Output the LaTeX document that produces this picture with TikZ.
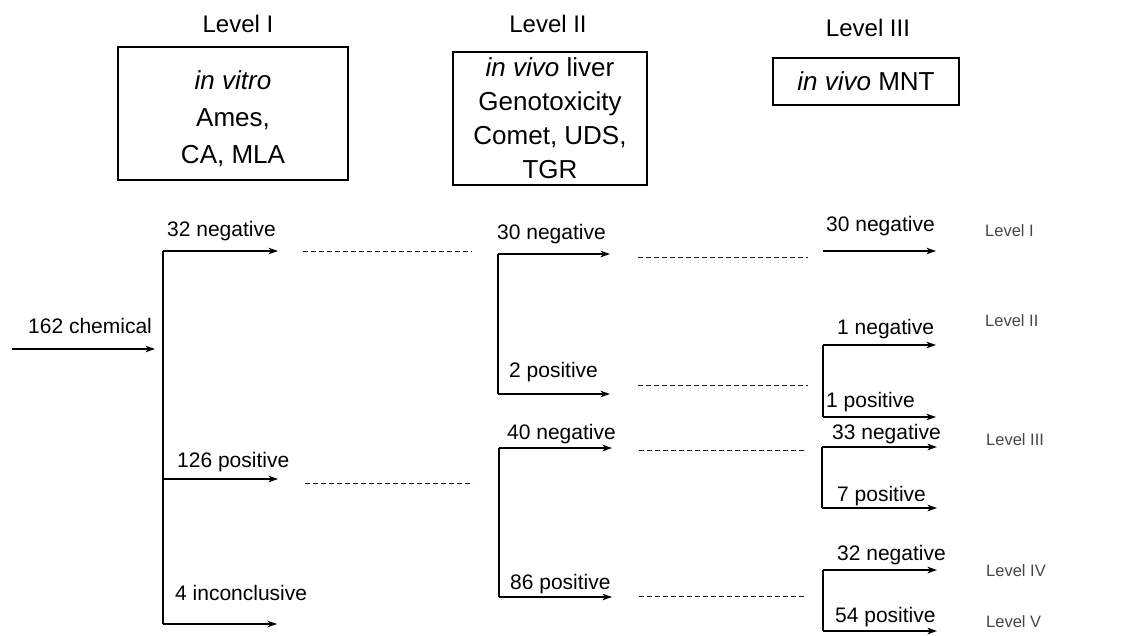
\documentclass[tikz,border=0pt]{standalone}
\usepackage{fontspec}
\setmainfont{Liberation Sans}
\usetikzlibrary{arrows.meta}
\begin{document}
\begin{tikzpicture}[x=1pt,y=-1pt,
  conn/.style={line width=1.3pt, draw=black, line join=miter},
  arr/.style={conn, -{Stealth[length=9.5pt,width=6.5pt,inset=2.5pt]}},
  dashline/.style={line width=1.0pt, draw=black!90, dash pattern=on 5pt off 3pt},
  lbl/.style={font=\fontsize{21}{25}\selectfont, inner sep=0pt, anchor=base west},
  lvl/.style={font=\fontsize{16.5}{20}\selectfont, text=black!72, inner sep=0pt, anchor=base west},
  hdr/.style={font=\fontsize{24}{28}\selectfont, inner sep=0pt, anchor=base},
  boxnode/.style={draw=black, line width=1.6pt, inner sep=0pt, align=center}
]
\fill[white] (0,0) rectangle (1126,635);
\useasboundingbox (0,0) rectangle (1126,635);

% headers
\node[hdr] (h1) at (238,32) {Level I};
\node[hdr] (h2) at (548,32) {Level II};
\node[hdr] (h3) at (868,36) {Level III};

% boxes
\node[boxnode, minimum width=230pt, minimum height=133pt] (box1) at (233,113.5) {};
\node[inner sep=0pt, align=center, font=\fontsize{26}{37}\selectfont] (box1t) at (233,119)
      {\textit{in vitro}\\Ames,\\CA, MLA};
\node[boxnode, line width=1.3pt, minimum width=194pt, minimum height=133pt,
      font=\fontsize{26}{34}\selectfont] (box2) at (550,118.5)
      {\textit{in vivo} liver\\Genotoxicity\\Comet, UDS,\\TGR};
\node[boxnode, line width=1.3pt, minimum width=186pt, minimum height=47pt,
      font=\fontsize{26}{30}\selectfont] (box3) at (866,81.5)
      {\textit{in vivo} MNT};

% coordinates
\coordinate (in0) at (12,349);  \coordinate (in1) at (155,349);
\coordinate (t1) at (163,251);  \coordinate (m1) at (163,479);  \coordinate (b1) at (163,624);
\coordinate (t1e) at (278,251); \coordinate (m1e) at (278,479); \coordinate (b1e) at (277,624);
\coordinate (d1a) at (303,251); \coordinate (d1b) at (472,251);
\coordinate (d2a) at (305,483); \coordinate (d2b) at (473,483);

\coordinate (ta) at (498,254);  \coordinate (ba) at (498,394);
\coordinate (tae) at (610,254); \coordinate (bae) at (610,394);
\coordinate (tb) at (499,448);  \coordinate (bb) at (499,597);
\coordinate (tbe) at (612,448); \coordinate (bbe) at (612,597);

\coordinate (d3a) at (638,257); \coordinate (d3b) at (808,257);
\coordinate (d4a) at (638,385); \coordinate (d4b) at (808,385);
\coordinate (d5a) at (639,450); \coordinate (d5b) at (805,450);
\coordinate (d6a) at (639,596); \coordinate (d6b) at (805,596);

\coordinate (r0) at (823,251);  \coordinate (r0e) at (936,251);
\coordinate (tc) at (823,345);  \coordinate (bc) at (823,417);
\coordinate (tce) at (936,345); \coordinate (bce) at (936,417);
\coordinate (td) at (822,447);  \coordinate (bd) at (822,508);
\coordinate (tde) at (937,447); \coordinate (bde) at (937,508);
\coordinate (te) at (823,570);  \coordinate (be) at (823,631);
\coordinate (tee) at (937,570); \coordinate (bee) at (937,631);

% left stage
\draw[arr] (in0) -- (in1);
\draw[conn] (t1) -- (b1);
\draw[arr] (t1) -- (t1e);
\draw[arr] (m1) -- (m1e);
\draw[arr] (b1) -- (b1e);
\draw[dashline] (d1a) -- (d1b);
\draw[dashline] (d2a) -- (d2b);

% middle stage
\draw[conn] (ta) -- (ba);
\draw[arr] (ta) -- (tae);
\draw[arr] (ba) -- (bae);
\draw[conn] (tb) -- (bb);
\draw[arr] (tb) -- (tbe);
\draw[arr] (bb) -- (bbe);
\draw[dashline] (d3a) -- (d3b);
\draw[dashline] (d4a) -- (d4b);
\draw[dashline] (d5a) -- (d5b);
\draw[dashline] (d6a) -- (d6b);

% right stage
\draw[arr] (r0) -- (r0e);
\draw[conn] (tc) -- (bc);
\draw[arr] (tc) -- (tce);
\draw[arr] (bc) -- (bce);
\draw[conn] (td) -- (bd);
\draw[arr] (td) -- (tde);
\draw[arr] (bd) -- (bde);
\draw[conn] (te) -- (be);
\draw[arr] (te) -- (tee);
\draw[arr] (be) -- (bee);

% labels
\node[lbl] (l162) at (28,333) {162 chemical};
\node[lbl] (l32n) at (167,236) {32 negative};
\node[lbl] (l126p) at (177,467) {126 positive};
\node[lbl] (l4i) at (175,600) {4 inconclusive};
\node[lbl] (l30n) at (497,239) {30 negative};
\node[lbl] (l2p) at (509,377) {2 positive};
\node[lbl] (l40n) at (507,439) {40 negative};
\node[lbl] (l86p) at (510,589) {86 positive};
\node[lbl] (r30n) at (826,231) {30 negative};
\node[lbl] (r1n) at (837,334) {1 negative};
\node[lbl] (r1p) at (826,407) {1 positive};
\node[lbl] (r33n) at (832,439) {33 negative};
\node[lbl] (r7p) at (837,501) {7 positive};
\node[lbl] (r32n) at (837,560) {32 negative};
\node[lbl] (r54p) at (835,622) {54 positive};

% level labels on the right
\node[lvl] (lv1) at (985,236) {Level I};
\node[lvl] (lv2) at (985,326) {Level II};
\node[lvl] (lv3) at (986,445) {Level III};
\node[lvl] (lv4) at (986,576) {Level IV};
\node[lvl] (lv5) at (986,627) {Level V};
\end{tikzpicture}
\end{document}
